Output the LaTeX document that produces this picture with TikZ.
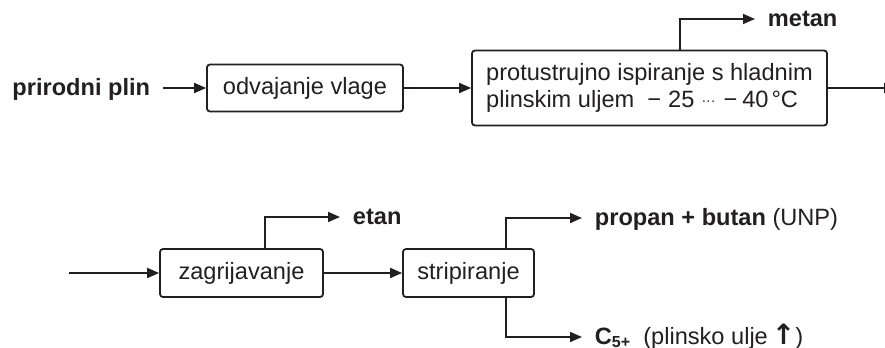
\documentclass[tikz,border=0pt]{standalone}
\usepackage{fontspec}
\setmainfont{Liberation Sans}
\newfontfamily\symfont{DejaVu Sans}
\usetikzlibrary{arrows.meta}
\definecolor{ink}{RGB}{35,31,32}

\begin{document}
\begin{tikzpicture}[x=0.5pt, y=-0.5pt, >={Triangle[length=6pt,width=5pt]},
  line width=0.9pt, color=ink, font=\fontsize{11.8}{13.5}\selectfont,
  box/.style={draw, rounded corners=1.5pt, inner sep=0pt, align=left},
  tag/.style={inner xsep=6pt, inner ysep=0pt, text height=0.72em, text depth=0pt}]
  \useasboundingbox (0,0) rectangle (885,348);
  \clip (0,0) rectangle (885,348);
  % upper row: drying, then counter-current washing with cold gas oil
  \node[tag, anchor=east] (plin) at (163,88) {\textbf{prirodni plin}};
  \node[box, minimum width=98pt, minimum height=23.5pt] (vlaga) at (305,88) {odvajanje vlage};
  \node[box, minimum width=177.5pt, minimum height=37.5pt] (ispiranje) at (649.5,88)
    {protustrujno ispiranje s hladnim\\plinskim uljem\ \ −\hspace{3.5pt}25\hspace{3.5pt}\raisebox{1pt}{\scriptsize ···}\hspace{4pt}−\hspace{2.5pt}40\hspace{1.5pt}°C};
  \node[tag, anchor=west] (metan) at (755,19) {\textbf{metan}};
  \coordinate (tapM) at (680,0);
  \coordinate (izlaz) at (896,0);
  \draw[->] (plin.east) -- (vlaga.west);
  \draw[->] (vlaga) -- (ispiranje);
  \draw[->] (tapM |- ispiranje.north) |- (metan.west);
  \draw[->] (ispiranje.east) -- (ispiranje.east -| izlaz);
  % lower row: heating, then stripping
  \coordinate (ulaz) at (69,273);
  \node[box, minimum width=81.5pt, minimum height=24pt] (grijanje) at (241.5,273) {zagrijavanje};
  \node[box, minimum width=65.5pt, minimum height=24pt] (stripiranje) at (468.5,273) {stripiranje};
  \node[tag, anchor=west] (etan) at (340,217) {\textbf{etan}};
  \node[tag, anchor=west] (unp) at (582,218) {\textbf{propan + butan} (UNP)};
  \node[tag, anchor=west] (c5) at (582,337) {\textbf{C}\raisebox{-1.5pt}{\fontsize{8}{8}\selectfont\bfseries 5+}\ \ (plinsko ulje\,{\symfont\bfseries\fontsize{14}{14}\selectfont ↑})};
  \coordinate (tapE) at (265,0);
  \coordinate (tapS) at (506,0);
  \draw[->] (ulaz) -- (grijanje.west);
  \draw[->] (grijanje) -- (stripiranje);
  \draw[->] (tapE |- grijanje.north) |- (etan.west);
  \draw[->] (tapS |- stripiranje.north) |- (unp.west);
  \draw[->] (tapS |- stripiranje.south) |- (c5.west);
\end{tikzpicture}
\end{document}
